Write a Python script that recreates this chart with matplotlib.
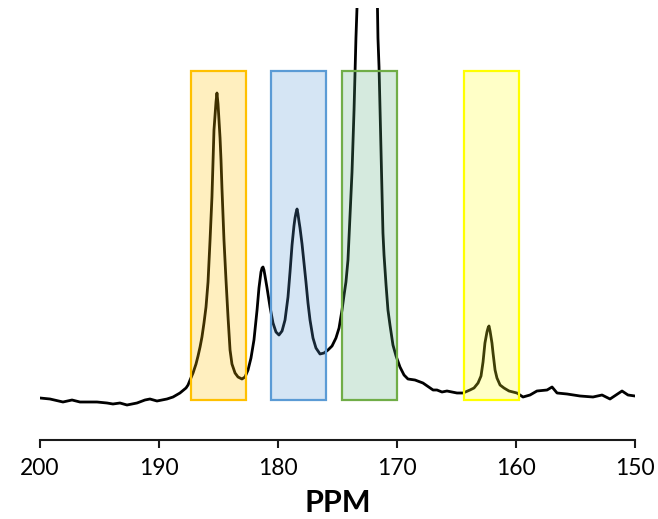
import matplotlib
matplotlib.use("Agg")
import matplotlib.pyplot as plt
from matplotlib.patches import Rectangle

# Spectrum (ppm, intensity in arbitrary units)
ppm = [200.00, 199.16, 198.07, 197.31, 196.64, 195.21, 194.37, 193.87, 193.28, 192.69,
       191.85, 191.18, 190.76, 190.17, 189.33, 188.82, 188.24, 187.73, 187.56, 187.39,
       187.14, 186.89, 186.72, 186.55, 186.39, 186.22, 186.05, 185.88, 185.71, 185.55,
       185.46, 185.38, 185.29, 185.21, 185.13, 185.04, 184.96, 184.87, 184.79, 184.71,
       184.54, 184.37, 184.20, 184.03, 183.87, 183.61, 183.36, 183.03, 182.77, 182.52,
       182.27, 182.02, 181.76, 181.60, 181.43, 181.34, 181.26, 181.18, 181.09, 180.92,
       180.67, 180.42, 180.17, 179.92, 179.66, 179.41, 179.16, 178.99, 178.82, 178.66,
       178.57, 178.49, 178.40, 178.32, 178.24, 178.15, 177.98, 177.82, 177.65, 177.48,
       177.31, 177.06, 176.81, 176.47, 176.13, 175.80, 175.46, 175.13, 174.87, 174.62,
       174.45, 174.29, 174.12, 173.95, 173.78, 173.61, 173.45, 173.28, 172.48, 171.68,
       171.60, 171.51, 171.43, 171.34, 171.26, 171.18, 171.09, 170.92, 170.76, 170.59,
       170.34, 170.08, 169.75, 169.41, 169.08, 168.49, 167.82, 166.97, 166.64, 166.22,
       165.80, 164.96, 164.45, 163.87, 163.53, 163.19, 162.94, 162.77, 162.61, 162.44,
       162.35, 162.27, 162.18, 162.10, 162.02, 161.93, 161.76, 161.60, 161.34, 161.01,
       160.59, 159.92, 159.41, 158.82, 158.24, 157.39, 156.97, 156.55, 155.71, 154.62,
       153.53, 152.77, 152.10, 151.09, 150.59, 150.00]
intensity = [2, 1, -2, 0, -2, -2, -3, -4, -3, -5,
             -3, 0, 1, -1, 1, 3, 7, 12, 15, 20,
             27, 36, 44, 53, 63, 77, 93, 118, 160, 203,
             240, 270, 285, 298, 307, 296, 280, 262, 240, 212,
             160, 120, 83, 50, 36, 27, 23, 21, 23, 30,
             42, 60, 90, 112, 128, 132, 133, 130, 124, 112,
             93, 77, 68, 65, 69, 80, 103, 128, 155, 174,
             182, 187, 191, 186, 179, 172, 156, 138, 118, 97,
             80, 62, 52, 46, 47, 50, 54, 62, 72, 90,
             105, 118, 140, 183, 228, 290, 362, 420, 700, 420,
             362, 333, 292, 250, 208, 167, 145, 115, 90, 75,
             55, 44, 33, 25, 21, 20, 17, 10, 10, 8,
             9, 7, 7, 10, 12, 17, 24, 38, 57, 68,
             72, 74, 69, 63, 57, 47, 30, 22, 15, 12,
             9, 7, 3, 5, 9, 10, 13, 7, 6, 4,
             3, 5, 1, 9, 5, 4]

# Highlight boxes (ppm ranges)
box_lo = [187.3, 180.6, 174.6, 164.4]
box_hi = [182.7, 176.0, 170.0, 159.75]
box_top = 329
box_edge = ["#FFC000", "#5B9BD5", "#70AD47", "#FFFF00"]
box_fill = ["#FFC000", "#5B9BD5", "#58AF7F", "#FFFF22"]

xticks = [200, 190, 180, 170, 160, 150]

fig = plt.figure(figsize=(6.58, 5.19), dpi=100)
ax = fig.add_axes([40 / 658, 1 - 440 / 519, 595 / 658, 432 / 519])

ax.plot(ppm, intensity, color="black", lw=2.0, zorder=2, solid_joinstyle="round")

for lo, hi, ec, fc in zip(box_lo, box_hi, box_edge, box_fill):
    ax.add_patch(Rectangle((hi, 0), lo - hi, box_top, facecolor=fc, alpha=0.25,
                           edgecolor="none", zorder=3))
    ax.add_patch(Rectangle((hi, 0), lo - hi, box_top, facecolor="none",
                           edgecolor=ec, lw=1.6, zorder=4))

ax.set_xlim(200, 150)
ax.set_ylim(-40, 392)
ax.set_xticks(xticks)
ax.set_xticklabels([str(t) for t in xticks], fontsize=16.5, family="Lato")
ax.set_yticks([])
for s in ["left", "right", "top"]:
    ax.spines[s].set_visible(False)
ax.spines["bottom"].set_linewidth(1.5)
ax.spines["bottom"].set_color("#1a1a1a")
ax.tick_params(axis="x", direction="out", length=6, width=1.5, color="#1a1a1a", pad=7)
ax.set_xlabel("PPM", fontsize=22, fontweight="bold", family="Lato", labelpad=7)

fig.savefig("out.png", dpi=100)
